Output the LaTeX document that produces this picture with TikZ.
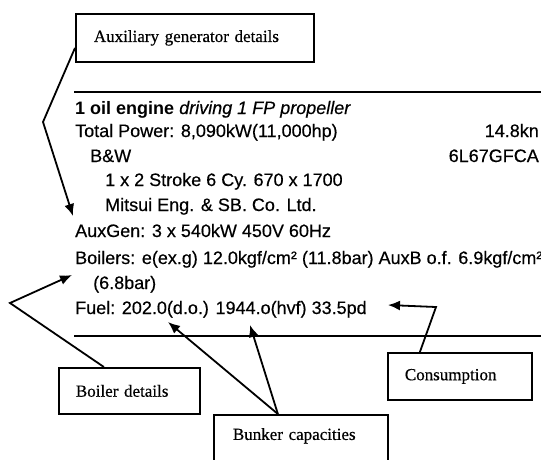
\documentclass[tikz,border=0pt]{standalone}
\usepackage{fontspec}
\setmainfont{Liberation Serif}[UprightFeatures={FakeBold=0.5}]
\newfontfamily\arialfam{Liberation Sans}[UprightFeatures={FakeBold=0.4},ItalicFeatures={FakeBold=0.4}]
\usetikzlibrary{arrows.meta}
\tikzset{
  lblbox/.style={draw, line width=1.8pt, anchor=north west, align=left,
    font=\fontsize{17}{20}\selectfont, inner ysep=0pt},
  txt/.style={anchor=base west, inner sep=0pt, font=\arialfam\fontsize{18}{22}\selectfont},
  txtr/.style={anchor=base east, inner sep=0pt, font=\arialfam\fontsize{18}{22}\selectfont},
  rule/.style={line width=1.8pt},
  arr/.style={line width=1.8pt, -{Latex[length=12pt,width=10pt]}}
}
\begin{document}
\begin{tikzpicture}[x=1pt,y=-1pt]
\useasboundingbox[fill=white] (0,0) rectangle (541,459);

% label boxes
\node[lblbox, inner xsep=18pt, text width=202pt, minimum height=48pt] (aux) at (75,13) {Auxiliary generator details};
\node[lblbox, inner xsep=17pt, text width=107pt, minimum height=46pt] (boil) at (58,367) {Boiler details};
\node[lblbox, inner xsep=17pt, text width=110pt, minimum height=47pt] (cons) at (387,352) {Consumption};
\node[lblbox, inner xsep=19pt, text width=136pt, text height=18pt, text depth=40pt, inner ysep=7pt] (bunk) at (213,414) {Bunker capacities};

% rules
\coordinate (r1a) at (74,92); \coordinate (r1b) at (545,92);
\coordinate (r2a) at (74,336); \coordinate (r2b) at (545,336);
\draw[rule] (r1a) -- (r1b);
\draw[rule] (r2a) -- (r2b);

% entry text
\node[txt] (l1) at (75,114) {\textbf{1 oil engine} \textit{driving 1 FP propeller}};
\node[txt] (l2) at (75,137) {Total Power: 8,090kW(11,000hp)};
\node[txtr] (l2r) at (539,137) {14.8kn};
\node[txt] (l3) at (90,162) {B\&W};
\node[txtr] (l3r) at (539,162) {6L67GFCA};
\node[txt] (l4) at (105,186) {1 x 2 Stroke 6 Cy. 670 x 1700};
\node[txt] (l5) at (105,211) {Mitsui Eng. \& SB. Co. Ltd.};
\node[txt] (l6) at (75,237) {AuxGen: 3 x 540kW 450V 60Hz};
\node[txt] (l7) at (75,264) {Boilers: e(ex.g) 12.0kgf/cm² (11.8bar) AuxB o.f. 6.9kgf/cm²};
\node[txt] (l8) at (93,289) {(6.8bar)};
\node[txt] (l9) at (75,314) {Fuel: 202.0(d.o.) 1944.o(hvf) 33.5pd};

% connector points
\coordinate (ak) at (43,122);
\coordinate (at) at (73,216);
\coordinate (bk) at (10,303);
\coordinate (bt) at (72,275);
\coordinate (kt1) at (168,322);
\coordinate (kt2) at (250,325);
\coordinate (ck) at (436,307);
\coordinate (ct) at (388,305);

\draw[arr] ([yshift=-10pt]aux.west) -- (ak) -- (at);
\draw[arr] ([xshift=-25.5pt]boil.north) -- (bk) -- (bt);
\draw[arr] ([xshift=-23pt]bunk.north) -- (kt1);
\draw[arr] ([xshift=-23pt]bunk.north) -- (kt2);
\draw[arr] ([xshift=-40pt]cons.north) -- (ck) -- (ct);
\end{tikzpicture}
\end{document}
